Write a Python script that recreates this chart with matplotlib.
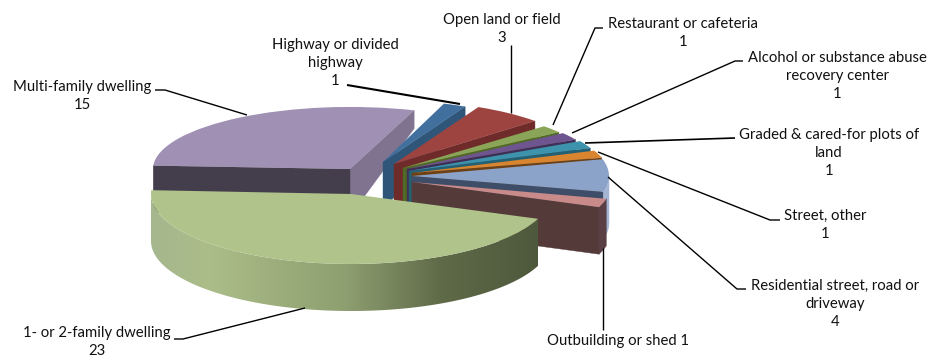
import numpy as np
import matplotlib
matplotlib.use("Agg")
import matplotlib.pyplot as plt
from matplotlib.colors import LinearSegmentedColormap
from matplotlib.patches import Polygon
from matplotlib.transforms import Affine2D

# ---- data ----
categories = ["Highway or divided\nhighway", "Open land or field", "Restaurant or cafeteria",
              "Alcohol or substance abuse\nrecovery center", "Graded & cared-for plots of\nland",
              "Street, other", "Residential street, road or\ndriveway", "Outbuilding or shed",
              "1- or 2-family dwelling", "Multi-family dwelling"]
values = [1, 3, 1, 1, 1, 1, 4, 1, 23, 15]
value_separator = ["\n", "\n", "\n", "\n", "\n", "\n", "\n", " ", "\n", "\n"]

# ---- style ----
top_colors = ["#41709f", "#9d4441", "#8aa557", "#6f5590", "#3c93ab", "#d9842f",
              "#8ca3c9", "#c88b89", "#afc38b", "#a091b4"]
side1_colors = ["#2f5679", "#6e2b2a", "#4f6a25", "#3f2f57", "#246073", "#6d4015",
                "#3e4e68", "#553a3a", "#505a3c", "#7f7390"]
side2_colors = side1_colors[:9] + ["#443e4c"]
rim_colors = [None, None, None, None, None, None, "#a3b5d3", "#5a4044", None, "#443e4c"]
apex = [(383, 162), (394, 164), (403, 168), (407, 169), (409, 171), (412, 173),
        (412, 176), (412, 182), (351, 194), (350, 169)]
radius = [187, 192, 192, 192, 195, 196, 197, 200, 200, 197]
squash = [.33, .33, .32, .32, .32, .31, .34, .355, .35, .315]
START = 71

plt.rcParams["font.family"] = ["Lato", "DejaVu Sans"]
fig = plt.figure(figsize=(9.32, 3.58), dpi=100, facecolor="white")
ax = fig.add_axes([0, 0, 1, 1])

wedges, _ = ax.pie(values, startangle=START, counterclock=False, radius=1,
                   colors=top_colors, wedgeprops={"linewidth": 0})
ax.set_aspect("auto")
ax.set_xlim(0, 932)
ax.set_ylim(358, 0)
ax.axis("off")

green_shade = LinearSegmentedColormap.from_list(
    "green_shade",
    [(0, "#a6b68e"), (.15, "#abbd88"), (.5, "#8e9f70"), (.75, "#5f6a48"), (1, "#4e583c")])


def depth(y):
    return np.clip(18 + .63 * (y - 110), 10, 47)


def rim_point(i, deg):
    t = np.radians(deg)
    return (apex[i][0] + radius[i] * np.cos(t),
            apex[i][1] - radius[i] * squash[i] * np.sin(t))


def cut_face(i, deg, color, z):
    x0, y0 = apex[i]
    x1, y1 = rim_point(i, deg)
    ax.add_patch(Polygon([(x0, y0), (x1, y1), (x1, y1 + depth(y1)), (x0, y0 + depth(y0))],
                         closed=True, fc=color, ec=color, lw=.3, zorder=z))


for i, w in enumerate(wedges):
    z = 10 + 5 * ((i + 1) % len(values))  # back to front: multi-family first, 1-2 family last
    t1, t2 = w.theta1, w.theta2
    if np.cos(np.radians(t1)) > 0:
        cut_face(i, t1, side1_colors[i], z)
    if np.cos(np.radians(t2)) < 0:
        cut_face(i, t2, side2_colors[i], z)
    # outer rim: only the part turned towards the viewer
    angles = np.linspace(t1, t2, 200)
    angles = angles[np.sin(np.radians(angles)) < 0]
    if len(angles) > 1:
        px, py = rim_point(i, angles)
        dy = depth(py)
        outline = np.column_stack([np.r_[px, px[::-1]], np.r_[py, (py + dy)[::-1]]])
        if rim_colors[i] is None:
            rim = Polygon(outline, closed=True, fc="none", ec="none")
            ax.add_patch(rim)
            im = ax.imshow(np.linspace(0, 1, 256)[None, :], cmap=green_shade, aspect="auto",
                           extent=(px.min(), px.max(), (py + dy).max(), py.min()), zorder=z + 1)
            im.set_clip_path(rim)
        else:
            ax.add_patch(Polygon(outline, closed=True, fc=rim_colors[i], ec=rim_colors[i],
                                 lw=.3, zorder=z + 1))
    w.set_transform(Affine2D().scale(radius[i], -squash[i] * radius[i])
                    .translate(*apex[i]) + ax.transData)
    w.set_clip_on(False)
    w.set_zorder(z + 2)

ax.set_xlim(0, 932)
ax.set_ylim(358, 0)

# ---- labels ----
label_pos = [(335, 63), (502, 29), (683, 33), (837, 76), (829, 153),
             (825, 225), (835, 304), (618, 341), (97, 342), (82, 96)]
for name, v, sep, (x, y) in zip(categories, values, value_separator, label_pos):
    ax.text(x, y, f"{name}{sep}{v}", ha="center", va="center", fontsize=10.7,
            color="#111111", linespacing=1.38, zorder=100, clip_on=False)

leaders = [[(347, 85), (460, 104)],
           [(511, 45), (511, 113)],
           [(603, 28), (595, 28), (553, 125)],
           [(743, 61), (735, 61), (572, 133)],
           [(735, 138), (585, 143)],
           [(780, 220), (770, 220), (598, 152)],
           [(746, 289), (737, 289), (608, 177)],
           [(603, 330), (603, 248)],
           [(155, 90), (165, 90), (247, 115)],
           [(174, 339), (183, 339), (305, 308)]]
leader_widths = [1.5, 1.0, 1.0, 1.0, 1.2, 1.0, 1.0, 1.0, 1.0, 1.0]
for pts, lw in zip(leaders, leader_widths):
    xs, ys = zip(*pts)
    ax.plot(xs, ys, color="black", lw=lw, zorder=90, clip_on=False, solid_capstyle="butt")

fig.savefig("out.png", dpi=100, facecolor="white")
